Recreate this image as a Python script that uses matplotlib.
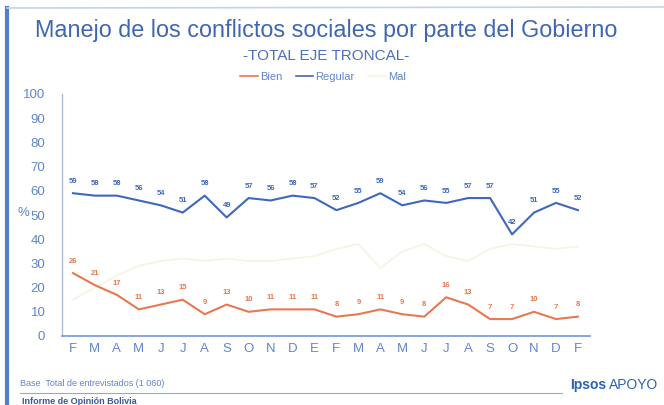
""" Manejo de los conflictos sociales por parte del Gobierno - total eje troncal. """

import numpy as np
import matplotlib
matplotlib.use('Agg')
import matplotlib.pyplot as plt
from matplotlib.lines import Line2D


months = ['F', 'M', 'A', 'M', 'J', 'J', 'A', 'S', 'O', 'N', 'D', 'E',
    'F', 'M', 'A', 'M', 'J', 'J', 'A', 'S', 'O', 'N', 'D', 'F']

regular = [59, 58, 58, 56, 54, 51, 58, 49, 57, 56, 58, 57,
    52, 55, 59, 54, 56, 55, 57, 57, 42, 51, 55, 52]

bien = [26, 21, 17, 11, 13, 15, 9, 13, 10, 11, 11, 11,
    8, 9, 11, 9, 8, 16, 13, 7, 7, 10, 7, 8]

# Barely visible in the scan, values estimated
mal = [15, 20, 25, 29, 31, 32, 31, 32, 31, 31, 32, 33,
    36, 38, 28, 35, 38, 33, 31, 36, 38, 37, 36, 37]

y_ticks = [0, 10, 20, 30, 40, 50, 60, 70, 80, 90, 100]


blue_txt = '#5f86cc'
blue_line = '#3d68bd'
orange = '#e9784f'
mal_color = '#f6f4e6'
axis_color = '#a9bde2'

plt.rcParams['font.family'] = ['Liberation Sans', 'DejaVu Sans']

fig = plt.figure(figsize=(6.64, 4.05), dpi=100, facecolor='white')
ax = fig.add_axes([62/664, 1 - 336/405, 528/664, 242/405])

x = np.arange(len(months))

ax.plot(x, mal, color=mal_color, lw=1.3, zorder=1)
ax.plot(x, bien, color=orange, lw=1.5, zorder=2)
ax.plot(x, regular, color=blue_line, lw=1.5, zorder=2)

# Data labels
for xi, v in zip(x, regular):
    ax.annotate(str(v), (xi, v), xytext=(0, 6), textcoords='offset points',
        ha='center', va='bottom', fontsize=5.5, color=blue_line, fontweight='bold')
for xi, v in zip(x, bien):
    ax.annotate(str(v), (xi, v), xytext=(0, 6), textcoords='offset points',
        ha='center', va='bottom', fontsize=5.5, color=orange, fontweight='bold')

ax.set_xlim(-0.5, len(months) - 0.45)
ax.set_ylim(0, 100)
ax.set_xticks(x)
ax.set_xticklabels(months)
ax.set_yticks(y_ticks)
ax.tick_params(axis='both', length=0, colors=blue_txt, labelsize=9.5)
ax.tick_params(axis='y', pad=12)
ax.tick_params(axis='x', pad=5)

for side in ['top', 'right']:
    ax.spines[side].set_visible(False)
ax.spines['left'].set_color(axis_color)
ax.spines['bottom'].set_color('#7596d2')
ax.spines['left'].set_linewidth(1.0)
ax.spines['bottom'].set_linewidth(1.2)

fig.text(18/664, 1 - 213/405, '%', color=blue_txt, fontsize=9.5, ha='left', va='center')

# Titles
fig.text(326/664, 1 - 30/405, 'Manejo de los conflictos sociales por parte del Gobierno',
    color='#3f66b3', fontsize=16.8, ha='center', va='center')
fig.text(326/664, 1 - 56/405, '-TOTAL EJE TRONCAL-', color='#4a70bd', fontsize=11,
    ha='center', va='center')

# Legend
handles = [Line2D([], [], color=orange, lw=1.2), Line2D([], [], color=blue_line, lw=1.2),
    Line2D([], [], color=mal_color, lw=1.2)]
leg = fig.legend(handles, ['Bien', 'Regular', 'Mal'], loc='center', ncol=3,
    bbox_to_anchor=(323/664, 1 - 77/405), frameon=False, fontsize=8, handlelength=1.6,
    handletextpad=0.2, columnspacing=1.2, labelcolor=blue_txt)

# Frame of the slide
fig.add_artist(Line2D([7/664, 7/664], [0, 1 - 8/405], color='#4f7fd0', lw=3))
fig.add_artist(Line2D([7/664, 1], [1 - 8/405, 1 - 7/405], color='#c6d2e6', lw=1.2))
fig.add_artist(Line2D([20/664, 562/664], [1 - 393/405, 1 - 393/405], color='#9aa8c4', lw=0.8))

# Footer
fig.text(20/664, 1 - 383/405, 'Base  Total de entrevistados (1 060)', color=blue_txt,
    fontsize=6.5, ha='left', va='center')
fig.text(22/664, 1 - 401/405, 'Informe de Opinión Bolivia', color='#3a5a95',
    fontsize=6.5, fontweight='bold', ha='left', va='center')
fig.text(570/664, 1 - 385/405, 'Ipsos', color='#2a63b0', fontsize=10, fontweight='bold',
    ha='left', va='center')
fig.text(609/664, 1 - 385/405, 'APOYO', color='#2a63b0', fontsize=10,
    ha='left', va='center')

plt.savefig('out.png', dpi=100, facecolor=fig.get_facecolor())
plt.close()
